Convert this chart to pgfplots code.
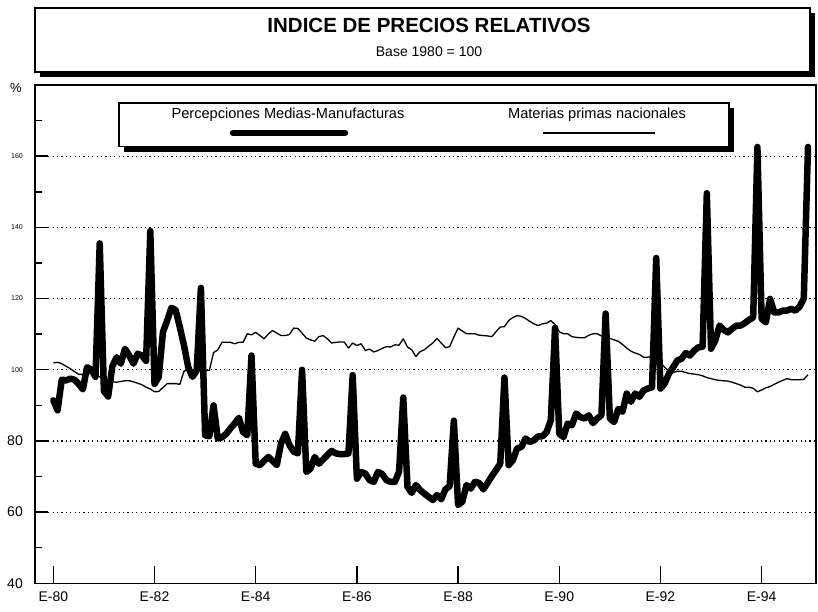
\documentclass[border=0pt]{standalone}
\usepackage{fontspec}
\setmainfont{Liberation Sans}
\usepackage{pgfplots}
\pgfplotsset{compat=1.18}
\usepackage{pgfplotstable}

\pgfplotstableread{
i v
0 91.4
1 88.6
2 97.2
3 97
4 97.5
5 97.2
6 96
7 94.5
8 100.7
9 100
10 98
11 135.5
12 94
13 92.5
14 101
15 103.5
16 101.7
17 105.9
18 104
19 101.7
20 104.5
21 104
22 102.5
23 139
24 96
25 98
26 110.6
27 113.8
28 117.4
29 116.8
30 112
31 106.8
32 100.7
33 98
34 99.8
35 123
36 81.6
37 81.3
38 90
39 80.7
40 81
41 82
42 83.5
43 84.9
44 86.5
45 82.5
46 81.6
47 104
48 73.6
49 73.2
50 74.4
51 75.5
52 74.4
53 73.2
54 79.3
55 82
56 78.8
57 77
58 76.5
59 100
60 71.3
61 72.2
62 75.5
63 73.6
64 74.8
65 76
66 77.2
67 76.5
68 76.3
69 76.3
70 76.5
71 98.5
72 69.4
73 71.3
74 70.8
75 69
76 68.5
77 71.3
78 70.7
79 69
80 68.5
81 68.5
82 71.3
83 92.2
84 67.1
85 65.4
86 67.6
87 66.2
88 65.2
89 64.3
90 63.4
91 64.8
92 63.6
93 66.4
94 67.3
95 85.7
96 62
97 62.9
98 67.6
99 66.6
100 68.5
101 68.2
102 66.4
103 68.2
104 70.1
105 71.8
106 73.6
107 97.8
108 73.2
109 74.6
110 77.9
111 78.3
112 80.7
113 79.7
114 80.2
115 81.3
116 81.3
117 82.5
118 85.8
119 111.8
120 82
121 81.1
122 84.9
123 84.4
124 87.7
125 86.7
126 86.3
127 87.2
128 85
129 86.3
130 87.2
131 115.8
132 86.3
133 85.3
134 89
135 88.2
136 93.3
137 91
138 93.3
139 92.4
140 94.2
141 94.7
142 95.1
143 131.4
144 94.7
145 96.1
146 98.9
147 100.7
148 102.6
149 103.1
150 104.7
151 104
152 105.4
153 106.3
154 106.5
155 149.6
156 105.9
157 108.2
158 112.4
159 111.2
160 110.5
161 111.5
162 112.4
163 112.4
164 113.1
165 114
166 114.7
167 162.6
168 114.3
169 113.3
170 119.9
171 116.1
172 116.1
173 116.6
174 116.6
175 117.1
176 116.6
177 117.7
178 120
179 162.6
}\percep

\pgfplotstableread{
i v
0 101.9
1 102.1
2 101.7
3 101
4 100.3
5 99.5
6 98.7
7 98.7
8 99
9 99
10 98.5
11 98
12 97.6
13 97
14 96.6
15 96.5
16 96.7
17 96.9
18 96.9
19 96.6
20 96.2
21 95.8
22 95.1
23 94.6
24 93.8
25 93.9
26 95
27 96.1
28 96.1
29 96.1
30 95.9
31 99.6
32 100.1
33 99.5
34 99.8
35 100.6
36 99.8
37 99.8
38 104.8
39 105.6
40 107.7
41 107.7
42 107.7
43 107.3
44 107.7
45 107.7
46 110.1
47 109.8
48 110.5
49 109.6
50 108.7
51 110.1
52 111
53 110.3
54 109.6
55 109.6
56 109.9
57 111.7
58 111.6
59 110.3
60 108.9
61 108.4
62 108
63 109.3
64 109.6
65 108.7
66 107.5
67 107.7
68 107.8
69 107.8
70 106.1
71 107.5
72 106.8
73 107.3
74 105.4
75 105.8
76 105
77 105.4
78 106
79 106.5
80 106.4
81 107
82 106.9
83 108.7
84 106.4
85 105.6
86 103.7
87 105.1
88 105.6
89 106.6
90 107.5
91 108.8
92 107.5
93 106.2
94 106.5
95 109.2
96 111.7
97 110.9
98 110.1
99 110.1
100 110.1
101 109.7
102 109.6
103 109.5
104 109.3
105 110.7
106 112
107 112.1
108 113.8
109 114.7
110 115.2
111 115
112 114.4
113 113.6
114 112.9
115 112.4
116 112.9
117 113.1
118 113.8
119 112.7
120 110.7
121 110.1
122 110.1
123 109.3
124 109.1
125 109
126 109
127 109.7
128 110.1
129 110.1
130 109.5
131 109
132 108.8
133 108.4
134 108
135 107.1
136 106.1
137 105.2
138 104.7
139 104.3
140 103.5
141 103.5
142 103.9
143 103.2
144 102
145 100.7
146 99.6
147 99.2
148 99.6
149 99.6
150 99.2
151 98.9
152 98.8
153 98.6
154 98.3
155 97.8
156 97.5
157 97.2
158 97
159 96.9
160 96.8
161 96.5
162 96.1
163 95.7
164 95.1
165 95.1
166 94.8
167 93.8
168 94.3
169 94.9
170 95.3
171 95.9
172 96.5
173 97
174 97.5
175 97.2
176 97.2
177 97.2
178 97.3
179 98.6
}\materias

\newcommand{\tlbig}[1]{{\fontsize{14}{14}\selectfont #1}}
\newcommand{\tlsmall}[1]{{\fontsize{7}{7}\selectfont #1}}

\begin{document}
\begin{tikzpicture}[x=1pt,y=1pt]
\useasboundingbox (0,0) rectangle (818,611);
% title box
\fill[black] (40,534) rectangle (815,598);
\draw[line width=1.5pt, fill=white] (35,539) rectangle (810,603);
\node[font=\bfseries\fontsize{20.5}{22}\selectfont] at (429,585.5) {INDICE DE PRECIOS RELATIVOS};
\node[font=\fontsize{14}{16}\selectfont] at (429,559.5) {Base 1980 = 100};
\node[font=\fontsize{13}{15}\selectfont] at (16,523) {\%};

\begin{axis}[
  at={(35pt,27.7pt)}, anchor=south west,
  scale only axis, width=781pt, height=498.3pt,
  xmin=-4.35, xmax=180.9, ymin=40, ymax=180,
  axis line style={line width=1.5pt},
  tick pos=left, tick align=inside,
  tick style={line width=1.5pt, black},
  major tick length=13pt, minor tick length=7pt,
  xtick={0,24,48,72,96,120,144,168},
  xticklabels={E-80,E-82,E-84,E-86,E-88,E-90,E-92,E-94},
  xtick style={/pgfplots/major tick length=17pt},
  xticklabel style={font=\fontsize{14}{14}\selectfont, inner sep=0pt, anchor=north, yshift=-8pt},
  ytick={40,60,80,100,120,140,160},
  yticklabels={\tlbig{40},\tlbig{60},\tlbig{80},\tlsmall{100},\tlsmall{120},\tlsmall{140},\tlsmall{160}},
  minor ytick={50,70,90,110,130,150,170},
  yticklabel style={inner sep=0pt, anchor=east, xshift=-12pt},
  ymajorgrids,
  major grid style={black, line width=1.2pt, dash pattern=on 1.2pt off 3.2pt},
]
\addplot[black, line width=1.3pt, line join=round] table[x=i, y=v] {\materias};
\addplot[black, line width=6.5pt, line join=round, line cap=round] table[x=i, y=v] {\percep};
\end{axis}

% legend box
\fill[black] (124,459.3) rectangle (734,503);
\draw[line width=1.5pt, fill=white] (119,464.3) rectangle (729,508);
\node[font=\fontsize{14.6}{16}\selectfont] at (288,496) {Percepciones Medias-Manufacturas};
\draw[line width=6.5pt, line cap=round] (233,478) -- (345,478);
\node[font=\fontsize{14.6}{16}\selectfont] at (597,496) {Materias primas nacionales};
\draw[line width=1.2pt] (543,478) -- (655,478);
\end{tikzpicture}
\end{document}
